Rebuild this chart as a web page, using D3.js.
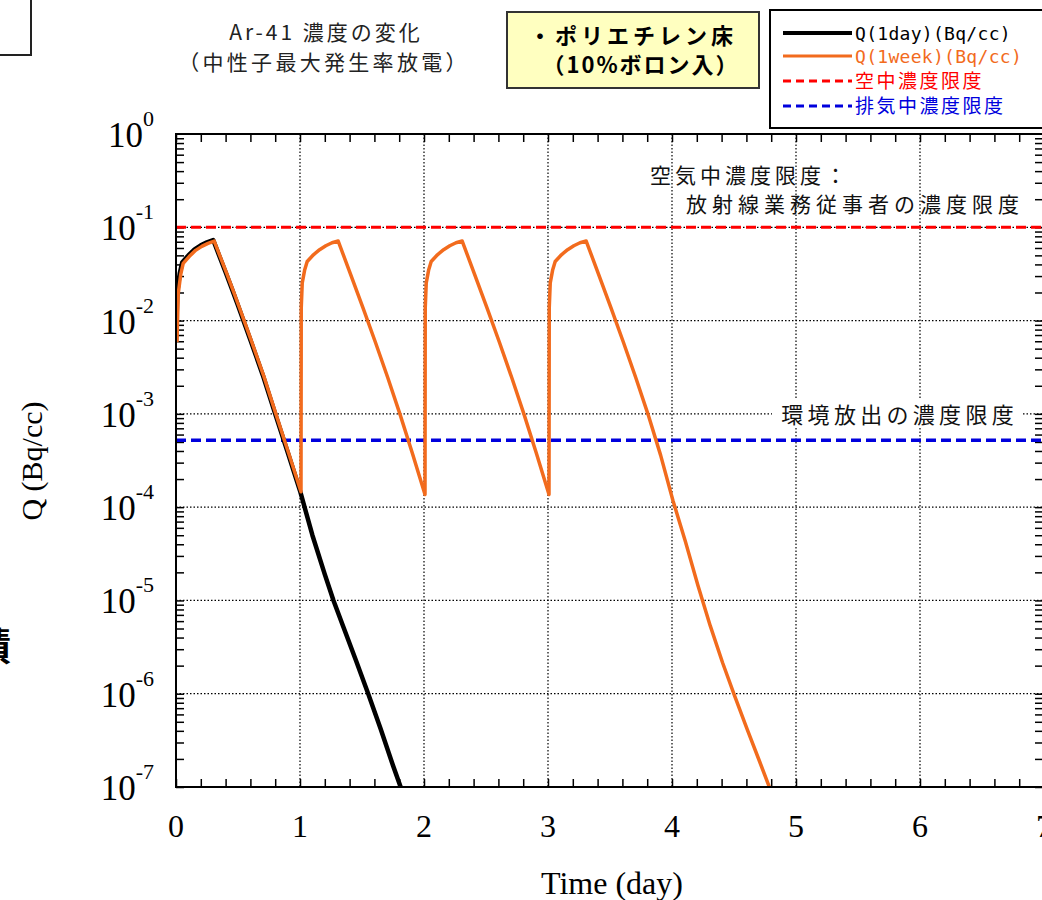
<!DOCTYPE html>
<html>
<head>
<meta charset="utf-8">
<script src="https://cdn.jsdelivr.net/npm/d3@7"></script>
<style>
  body { margin: 0; background: #fff; }
  svg { display: block; }
  .serif { font-family: "Liberation Serif", "DejaVu Serif", serif; }
  .jp { font-family: "Noto Sans CJK JP", sans-serif; }
</style>
</head>
<body>
<div id="chart"></div>
<script>
// ---- data ----
const xTickValues = [0, 1, 2, 3, 4, 5, 6, 7];
const yDecades = [1e0, 1e-1, 1e-2, 1e-3, 1e-4, 1e-5, 1e-6, 1e-7];
const yExponents = ["0", "-1", "-2", "-3", "-4", "-5", "-6", "-7"];

// Q(1day): one day of discharge, then decay
const day1T = [0, 0.01, 0.03, 0.05, 0.1, 0.15, 0.2, 0.25, 0.3, 0.35, 0.4, 0.45, 0.5, 0.55, 0.6, 0.7, 0.8, 0.9, 1.0,
  1.1, 1.2, 1.27, 1.35, 1.45, 1.55, 1.65, 1.75, 1.82];
const day1Q = [6.0e-3, 2.0e-2, 3.2e-2, 4.2e-2, 5.0e-2, 5.8e-2, 6.4e-2, 6.9e-2, 7.3e-2, 4.9e-2, 3.3e-2, 2.2e-2, 1.45e-2, 9.5e-3, 6.2e-3, 2.6e-3, 1.0e-3, 3.9e-4, 1.5e-4,
  5.0e-5, 1.9e-5, 1.0e-5, 5.2e-6, 2.3e-6, 1.0e-6, 4.2e-7, 1.7e-7, 0.93e-7];

// Q(1week): four daily cycles, then decay
const weekT = [0, 0.01, 0.03, 0.05, 0.1, 0.15, 0.2, 0.25, 0.3, 0.35, 0.4, 0.45, 0.5, 0.55, 0.6, 0.7, 0.8, 0.9, 1.0,
  1.002, 1.01, 1.03, 1.05, 1.1, 1.15, 1.2, 1.25, 1.3, 1.4, 1.5, 1.6, 1.7, 1.8, 1.9, 2.0,
  2.002, 2.01, 2.03, 2.05, 2.1, 2.15, 2.2, 2.25, 2.3, 2.4, 2.5, 2.6, 2.7, 2.8, 2.9, 3.0,
  3.002, 3.01, 3.03, 3.05, 3.1, 3.15, 3.2, 3.25, 3.3, 3.4, 3.5, 3.6, 3.7, 3.8, 3.9, 4.0,
  4.1, 4.2, 4.3, 4.4, 4.5, 4.6, 4.7, 4.8];
const weekQ = [6.0e-3, 2.0e-2, 3.2e-2, 4.2e-2, 5.0e-2, 5.8e-2, 6.4e-2, 6.9e-2, 7.3e-2, 4.9e-2, 3.3e-2, 2.2e-2, 1.45e-2, 9.5e-3, 6.2e-3, 2.6e-3, 1.0e-3, 3.9e-4, 1.5e-4,
  1.4e-2, 2.6e-2, 3.6e-2, 4.4e-2, 5.2e-2, 5.9e-2, 6.5e-2, 7.0e-2, 7.3e-2, 3.2e-2, 1.4e-2, 6.0e-3, 2.5e-3, 1.0e-3, 3.8e-4, 1.4e-4,
  1.4e-2, 2.6e-2, 3.6e-2, 4.4e-2, 5.2e-2, 5.9e-2, 6.5e-2, 7.0e-2, 7.3e-2, 3.2e-2, 1.4e-2, 6.0e-3, 2.5e-3, 1.0e-3, 3.8e-4, 1.4e-4,
  1.4e-2, 2.6e-2, 3.6e-2, 4.4e-2, 5.2e-2, 5.9e-2, 6.5e-2, 7.0e-2, 7.3e-2, 3.2e-2, 1.4e-2, 6.0e-3, 2.5e-3, 1.0e-3, 3.7e-4, 1.2e-4,
  4.4e-5, 1.5e-5, 5.5e-6, 2.2e-6, 9.5e-7, 4.2e-7, 1.9e-7, 8.5e-8];

const airLimit = 1e-1;       // 空中濃度限度
const exhaustLimit = 5.2e-4; // 排気中濃度限度

const legendLabels = ["Q(1day)(Bq/cc)", "Q(1week)(Bq/cc)", "空中濃度限度", "排気中濃度限度"];
const legendColors = ["#000000", "#f26b1d", "#ff0000", "#0000dd"];

// ---- layout ----
const W = 1042, H = 900;
const plot = { left: 176, top: 134, right: 1044, bottom: 787 };

const svg = d3.select("#chart").append("svg").attr("width", W).attr("height", H);

const x = d3.scaleLinear().domain([0, 7]).range([plot.left, plot.right]);
const y = d3.scaleLog().domain([1e-7, 1]).range([plot.bottom, plot.top]);

// clip
svg.append("clipPath").attr("id", "clip").append("rect")
  .attr("x", plot.left).attr("y", plot.top)
  .attr("width", plot.right - plot.left).attr("height", plot.bottom - plot.top);

// grid (dotted)
const grid = svg.append("g").attr("stroke", "#000").attr("stroke-width", 1.2).attr("stroke-dasharray", "1.5,2");
grid.selectAll(".gx").data(xTickValues.slice(1, 7)).join("line")
  .attr("x1", d => x(d)).attr("x2", d => x(d)).attr("y1", plot.top).attr("y2", plot.bottom);
grid.selectAll(".gy").data(yDecades.slice(1, 7)).join("line")
  .attr("y1", d => y(d)).attr("y2", d => y(d)).attr("x1", plot.left).attr("x2", plot.right);

// axes ticks (inward)
const minorX = d3.range(0, 36).map(i => i * 0.2);
svg.append("g").attr("transform", `translate(0,${plot.bottom})`)
  .call(d3.axisTop(x).tickValues(minorX).tickSize(8).tickFormat(""))
  .call(g => g.select(".domain").remove())
  .selectAll("line").attr("stroke-width", 1.5);
svg.append("g").attr("transform", `translate(0,${plot.top})`)
  .call(d3.axisBottom(x).tickValues(minorX).tickSize(8).tickFormat(""))
  .call(g => g.select(".domain").remove())
  .selectAll("line").attr("stroke-width", 1.5);

const minorY = [];
yDecades.slice(1).forEach(d => { for (let k = 1; k <= 9; k++) minorY.push(d * k); });
svg.append("g").attr("transform", `translate(${plot.left},0)`)
  .call(d3.axisRight(y).tickValues(minorY).tickSize(8).tickFormat(""))
  .call(g => g.select(".domain").remove())
  .selectAll("line").attr("stroke-width", 1.5);
svg.append("g").attr("transform", `translate(${plot.right - 1},0)`)
  .call(d3.axisLeft(y).tickValues(minorY).tickSize(8).tickFormat(""))
  .call(g => g.select(".domain").remove())
  .selectAll("line").attr("stroke-width", 1.5);

// limit lines
svg.append("line").attr("x1", plot.left).attr("x2", plot.right)
  .attr("y1", y(airLimit)).attr("y2", y(airLimit))
  .attr("stroke", legendColors[2]).attr("stroke-width", 3).attr("stroke-dasharray", "10,5");
svg.append("line").attr("x1", plot.left).attr("x2", plot.right)
  .attr("y1", y(exhaustLimit)).attr("y2", y(exhaustLimit))
  .attr("stroke", legendColors[3]).attr("stroke-width", 3.5).attr("stroke-dasharray", "10,5");

// annotations
svg.append("text").attr("class", "jp").attr("x", 650).attr("y", 183)
  .attr("font-size", 21).attr("letter-spacing", 4).attr("fill", "#111").text("空気中濃度限度：");
svg.append("text").attr("class", "jp").attr("x", 1024).attr("y", 212).attr("text-anchor", "end")
  .attr("font-size", 21).attr("letter-spacing", 5).attr("fill", "#111").text("放射線業務従事者の濃度限度");
svg.append("rect").attr("x", 772).attr("y", y(1e-3) - 14).attr("width", 250).attr("height", 28).attr("fill", "#fff");
svg.append("text").attr("class", "jp").attr("x", 1018).attr("y", y(1e-3) + 9).attr("text-anchor", "end")
  .attr("font-size", 22).attr("letter-spacing", 4.3).attr("fill", "#111").text("環境放出の濃度限度");

// curves
const line = d3.line().x(d => x(d[0])).y(d => y(d[1]));
const curves = svg.append("g").attr("clip-path", "url(#clip)");
curves.append("path").datum(d3.zip(day1T, day1Q)).attr("d", line)
  .attr("fill", "none").attr("stroke", legendColors[0]).attr("stroke-width", 4.5).attr("stroke-linejoin", "round");
curves.append("path").datum(d3.zip(weekT, weekQ)).attr("d", line)
  .attr("transform", "translate(1,1)")
  .attr("fill", "none").attr("stroke", legendColors[1]).attr("stroke-width", 3.5).attr("stroke-linejoin", "round");

// frame
svg.append("rect").attr("x", plot.left).attr("y", plot.top)
  .attr("width", plot.right - plot.left).attr("height", plot.bottom - plot.top)
  .attr("fill", "none").attr("stroke", "#000").attr("stroke-width", 2);

// y tick labels 10^n
const yl = svg.append("g").attr("class", "serif").attr("fill", "#000");
yDecades.forEach((d, i) => {
  const t = yl.append("text").attr("x", 154).attr("y", y(d) + 13).attr("text-anchor", "end").attr("font-size", 35);
  t.append("tspan").text("10");
  t.append("tspan").attr("dy", -21).attr("font-size", 22).text(yExponents[i]);
});

// x tick labels
svg.append("g").attr("class", "serif").selectAll("text").data(xTickValues).join("text")
  .attr("x", d => x(d)).attr("y", 837).attr("text-anchor", "middle").attr("font-size", 32)
  .text(d => d);

// axis titles
svg.append("text").attr("class", "serif").attr("x", 612).attr("y", 894).attr("text-anchor", "middle")
  .attr("font-size", 32).text("Time (day)");
svg.append("text").attr("class", "serif").attr("transform", "translate(42,461) rotate(-90)")
  .attr("text-anchor", "middle").attr("font-size", 30).text("Q (Bq/cc)");

// chart title
svg.append("text").attr("class", "jp").attr("x", 326).attr("y", 40).attr("text-anchor", "middle")
  .attr("font-size", 21).attr("letter-spacing", 3).attr("fill", "#222").text("Ar-41 濃度の変化");
svg.append("text").attr("class", "jp").attr("x", 324).attr("y", 70).attr("text-anchor", "middle")
  .attr("font-size", 21).attr("letter-spacing", 3.3).attr("fill", "#222").text("（中性子最大発生率放電）");

// yellow box
svg.append("rect").attr("x", 507).attr("y", 12).attr("width", 252).attr("height", 76)
  .attr("fill", "#ffffc0").attr("stroke", "#333").attr("stroke-width", 2);
svg.append("text").attr("class", "jp").attr("x", 633).attr("y", 44).attr("text-anchor", "middle")
  .attr("font-size", 22).attr("font-weight", "bold").attr("letter-spacing", 4).text("・ポリエチレン床");
svg.append("text").attr("class", "jp").attr("x", 641).attr("y", 73).attr("text-anchor", "middle")
  .attr("font-size", 22).attr("font-weight", "bold").attr("letter-spacing", 2).text("（10%ボロン入）");

// legend
svg.append("rect").attr("x", 770).attr("y", 10).attr("width", 280).attr("height", 118)
  .attr("fill", "#fff").attr("stroke", "#000").attr("stroke-width", 2);
const rowY = [33, 56, 81, 106];
legendLabels.forEach((lab, i) => {
  svg.append("line").attr("x1", 783).attr("x2", 852).attr("y1", rowY[i]).attr("y2", rowY[i])
    .attr("stroke", legendColors[i]).attr("stroke-width", i === 0 ? 4 : 3)
    .attr("stroke-dasharray", i >= 2 ? "8,5" : null);
  svg.append("text").attr("x", 855).attr("y", rowY[i] + 7)
    .attr("font-family", i < 2 ? "'DejaVu Sans Mono', monospace" : "'Noto Sans CJK JP', sans-serif")
    .attr("font-size", i < 2 ? 18 : 19).attr("letter-spacing", i < 2 ? 0.3 : 2.5)
    .attr("fill", legendColors[i]).text(lab);
});

// partial elements at the page edge
svg.append("path").attr("d", "M31,0 V55 H0").attr("fill", "none").attr("stroke", "#222").attr("stroke-width", 2);
svg.append("text").attr("class", "jp").attr("x", 11).attr("y", 660).attr("text-anchor", "end")
  .attr("font-size", 38).attr("font-weight", "bold").text("積");
</script>
</body>
</html>
